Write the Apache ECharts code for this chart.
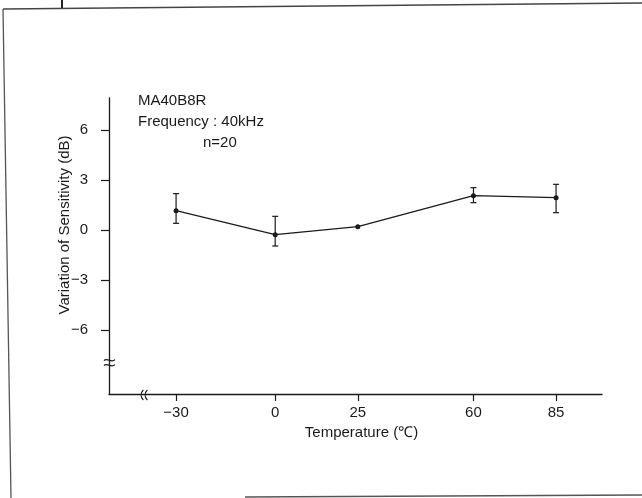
<!DOCTYPE html>
<html>
<head>
<meta charset="utf-8">
<script src="https://cdn.jsdelivr.net/npm/echarts@6/dist/echarts.min.js"></script>
<style>
html,body{margin:0;padding:0;background:#fff;}
#c{width:642px;height:498px;}
</style>
</head>
<body>
<div id="c"></div>
<script>
// Data
const temps = [-30, 0, 25, 60, 85];            // Temperature (°C)
const sensitivity = [1.16, -0.28, 0.2, 2.06, 1.94]; // dB
const errHigh = [2.18, 0.82, null, 2.54, 2.74];
const errLow = [0.40, -0.96, null, 1.64, 1.04];
const xTickValues = [-30, 0, 25, 60, 85];
const yTickValues = [-6, -3, 0, 3, 6];
const noteLines = ['MA40B8R', 'Frequency : 40kHz', 'n=20'];
const xName = 'Temperature (℃)';
const yName = 'Variation of Sensitivity (dB)';

const INK = '#1a1a1a';
const FONT = '"Liberation Sans", Arial, sans-serif';
const fmt = v => String(v).replace('-', '\u2212');
const X_MIN = -50.3, X_MAX = 98.9, Y_MIN = -9.84, Y_MAX = 7.92;

const chart = echarts.init(document.getElementById('c'), null, {renderer: 'canvas'});

const errData = [];
temps.forEach((t, i) => {
  if (errHigh[i] != null && errLow[i] != null) errData.push([t, errLow[i], errHigh[i]]);
});

const option = {
  backgroundColor: '#fff',
  animation: false,
  grid: {left: 109, right: 40, top: 98, bottom: 104},
  xAxis: {
    type: 'value',
    min: X_MIN, max: X_MAX,
    name: xName,
    nameLocation: 'middle',
    nameGap: 29,
    nameTextStyle: {color: INK, fontSize: 15, fontFamily: FONT, padding: [0, 0, 0, 12]},
    axisLine: {show: true, onZero: false, lineStyle: {color: INK, width: 1.3}},
    axisTick: {show: true, length: 7, customValues: xTickValues, lineStyle: {color: INK, width: 1.2}},
    axisLabel: {customValues: xTickValues, formatter: fmt, color: INK, fontSize: 15, fontFamily: FONT, margin: 11},
    splitLine: {show: false}
  },
  yAxis: {
    type: 'value',
    min: Y_MIN, max: Y_MAX,
    axisLine: {show: true, onZero: false, lineStyle: {color: INK, width: 1.3}},
    axisTick: {show: true, length: 8, customValues: yTickValues, lineStyle: {color: INK, width: 1.2}},
    axisLabel: {customValues: yTickValues, formatter: fmt, color: INK, fontSize: 15, fontFamily: FONT, margin: 21},
    splitLine: {show: false}
  },
  series: [
    {
      type: 'line',
      data: temps.map((t, i) => [t, sensitivity[i]]),
      symbol: 'circle',
      symbolSize: 5,
      itemStyle: {color: INK},
      lineStyle: {color: INK, width: 1.2}
    },
    {
      type: 'custom',
      data: errData,
      renderItem: function (params, api) {
        const x = api.value(0);
        const top = api.coord([x, api.value(2)]);
        const bot = api.coord([x, api.value(1)]);
        const w = 3;
        const st = {stroke: INK, lineWidth: 1.2};
        return {
          type: 'group',
          children: [
            {type: 'line', shape: {x1: top[0], y1: top[1], x2: bot[0], y2: bot[1]}, style: st},
            {type: 'line', shape: {x1: top[0] - w, y1: top[1], x2: top[0] + w, y2: top[1]}, style: st},
            {type: 'line', shape: {x1: bot[0] - w, y1: bot[1], x2: bot[0] + w, y2: bot[1]}, style: st}
          ]
        };
      }
    }
  ]
};
chart.setOption(option);

// axis break marks placed relative to the axes
const origin = chart.convertToPixel({gridIndex: 0}, [X_MIN, Y_MIN]);
const yb = chart.convertToPixel({gridIndex: 0}, [X_MIN, -7.9]);
const xb = chart.convertToPixel({gridIndex: 0}, [-39.6, Y_MIN]);
const ax = origin[0], by = yb[1];
const bx = xb[0], ay = origin[1];
const st = {stroke: INK, lineWidth: 1.2, fill: null};
chart.setOption({
  graphic: [
    // scanned page frame
    {type: 'line', shape: {x1: 3, y1: 9, x2: 642, y2: 3}, style: {stroke: '#444', lineWidth: 1.5}},
    {type: 'line', shape: {x1: 3, y1: 9, x2: 11, y2: 498}, style: {stroke: '#555', lineWidth: 1.3}},
    {type: 'line', shape: {x1: 245, y1: 497, x2: 642, y2: 495}, style: {stroke: '#555', lineWidth: 1.5}},
    {type: 'line', shape: {x1: 62, y1: 0, x2: 62, y2: 8}, style: {stroke: '#222', lineWidth: 2}},
    // annotations
    {type: 'text', left: 138, top: 93, style: {text: noteLines[0], fill: INK, font: '15px ' + FONT}},
    {type: 'text', left: 138, top: 114, style: {text: noteLines[1], fill: INK, font: '15px ' + FONT}},
    {type: 'text', left: 203, top: 135, style: {text: noteLines[2], fill: INK, font: '15px ' + FONT}},
    // y axis name
    {type: 'text', x: 65, y: 225, rotation: Math.PI / 2,
      style: {text: yName, fill: INK, font: '15px ' + FONT, align: 'center', verticalAlign: 'middle'}},
    // y-axis break
    {type: 'rect', shape: {x: ax - 2, y: by - 1, width: 4, height: 4}, style: {fill: '#fff'}},
    {type: 'bezierCurve', shape: {x1: ax - 5, y1: by - 1, cpx1: ax - 2, cpy1: by - 5, cpx2: ax + 2, cpy2: by + 2, x2: ax + 6, y2: by - 2}, style: st},
    {type: 'bezierCurve', shape: {x1: ax - 5, y1: by + 4, cpx1: ax - 2, cpy1: by, cpx2: ax + 2, cpy2: by + 7, x2: ax + 6, y2: by + 3}, style: st},
    // x-axis break
    {type: 'rect', shape: {x: bx - 1, y: ay - 2, width: 4, height: 4}, style: {fill: '#fff'}},
    {type: 'bezierCurve', shape: {x1: bx - 1, y1: ay - 4, cpx1: bx - 4, cpy1: ay - 1, cpx2: bx - 4, cpy2: ay + 3, x2: bx - 1, y2: ay + 6}, style: st},
    {type: 'bezierCurve', shape: {x1: bx + 3, y1: ay - 4, cpx1: bx, cpy1: ay - 1, cpx2: bx, cpy2: ay + 3, x2: bx + 3, y2: ay + 6}, style: st}
  ]
});
</script>
</body>
</html>
